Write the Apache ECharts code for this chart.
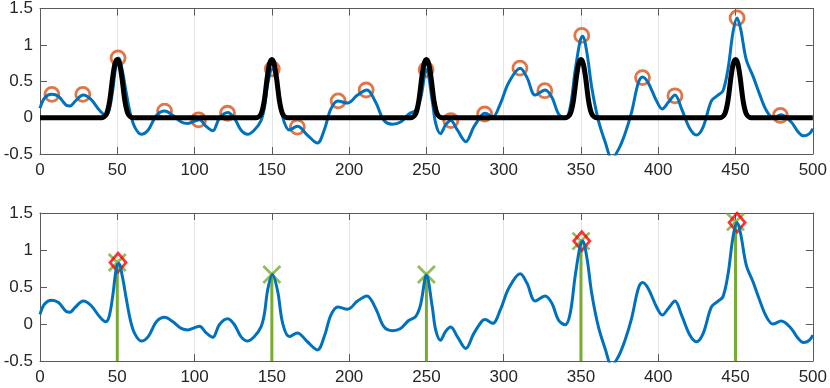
<!DOCTYPE html>
<html>
<head>
<meta charset="utf-8">
<script src="https://cdn.jsdelivr.net/npm/echarts@6/dist/echarts.min.js"></script>
<style>
    html, body { margin: 0; padding: 0; background: #fff; }
    #chart { width: 830px; height: 388px; }
</style>
</head>
<body>
<div id="chart"></div>
<script>
// 坐标轴范围和刻度
const xMin = 0, xMax = 500, xStep = 50;
const yMin = -0.5, yMax = 1.5, yStep = 0.5;

// 信号曲线 (蓝色)
const signalX = [0, 3, 7.5, 12, 17, 19.5, 22.5, 28, 33, 38.5, 42.5, 44.7, 47, 49.5, 51, 53.3, 56, 58.5, 61.3, 65.5,
    70, 75.3, 80.6, 86, 91.4, 95.7, 100, 103.2, 107.5, 111.8, 116, 121.5, 125.8, 130, 134.4, 138.7, 143, 145.2, 147.3, 150.3,
    153.8, 157, 161.3, 166.5, 173, 179.5, 183.9, 188.2, 192.7, 199, 205.4, 211.5, 217.2, 222.6, 228, 233.3, 238.7, 243, 246.2, 250,
    253.8, 256, 259.1, 262.4, 265.7, 270, 275.5, 280.6, 286, 288, 292.9, 297.8, 303.2, 310.7, 315.1, 320.4, 326.8, 331.2, 335.5, 339.8,
    343, 346.2, 349.5, 351, 353.8, 357, 361.3, 365.6, 370, 374.2, 378.5, 382.8, 387.1, 389.9, 393.5, 398.9, 402.6, 406.5, 410.8, 415.1,
    420.4, 424.7, 429, 434.4, 438.7, 441.9, 445.2, 448.4, 451, 453.3, 456.9, 461.3, 465.6, 469.9, 474.2, 479.5, 486, 490.3, 494, 497.8, 500];
const signalY = [0.13, 0.27, 0.32, 0.29, 0.17, 0.16, 0.22, 0.31, 0.25, 0.1, 0.03, 0.1, 0.37, 0.77, 0.82, 0.64, 0.32, 0.05, -0.13, -0.23,
    -0.17, 0.03, 0.09, 0.03, -0.06, -0.08, -0.05, -0.03, -0.12, -0.18, -0.01, 0.07, -0.01, -0.17, -0.23, -0.17, -0.04, 0.14, 0.46, 0.67,
    0.44, 0.01, -0.17, -0.12, -0.24, -0.35, -0.17, 0.12, 0.23, 0.2, 0.31, 0.38, 0.21, -0.04, -0.09, -0.06, 0.05, 0.1, 0.26, 0.66,
    0.23, -0.08, -0.22, -0.1, -0.04, -0.17, -0.33, -0.13, 0.04, 0.06, 0.01, 0.19, 0.48, 0.68, 0.55, 0.31, 0.38, 0.28, 0.05, -0.01,
    0.14, 0.64, 1.06, 1.12, 0.9, 0.41, -0.04, -0.33, -0.56, -0.44, -0.22, 0.08, 0.48, 0.56, 0.48, 0.23, 0.12, 0.21, 0.31, 0.12,
    -0.15, -0.24, -0.13, 0.23, 0.31, 0.37, 0.68, 1.18, 1.37, 1.22, 0.8, 0.57, 0.32, 0.1, 0, 0.04, -0.06, -0.19, -0.25, -0.22, -0.15];

// 脉冲模板 (黑色)
const pulseX = [0, 40, 43, 45, 47, 48.5, 50, 51.5, 53, 55, 57, 60,
    140, 143, 145, 147, 148.5, 150, 151.5, 153, 155, 157, 160,
    240, 243, 245, 247, 248.5, 250, 251.5, 253, 255, 257, 260,
    340, 343, 345, 347, 348.5, 350, 351.5, 353, 355, 357, 360,
    440, 443, 445, 447, 448.5, 450, 451.5, 453, 455, 457, 460, 500];
const pulseY = [0, 0, 0.05, 0.22, 0.55, 0.74, 0.8, 0.74, 0.55, 0.22, 0.05, 0,
    0, 0.05, 0.22, 0.55, 0.74, 0.8, 0.74, 0.55, 0.22, 0.05, 0,
    0, 0.05, 0.22, 0.55, 0.74, 0.8, 0.74, 0.55, 0.22, 0.05, 0,
    0, 0.05, 0.22, 0.55, 0.74, 0.8, 0.74, 0.55, 0.22, 0.05, 0,
    0, 0.05, 0.22, 0.55, 0.74, 0.8, 0.74, 0.55, 0.22, 0.05, 0, 0];

// 局部峰值 (橙色圆圈)
const peakX = [7.7, 27.7, 50.5, 80.6, 102.6, 121.3, 150.3, 166.5, 192.9, 211, 249.8, 265.8, 287.7, 310.5, 326.6, 350.5, 389.8, 410.8, 451, 479];
const peakY = [0.32, 0.32, 0.82, 0.09, -0.03, 0.06, 0.67, -0.13, 0.23, 0.38, 0.66, -0.04, 0.05, 0.68, 0.37, 1.13, 0.55, 0.3, 1.37, 0.03];

// 茎线 (绿色)
const stemX = [50, 150, 250, 350, 450];
const stemY = [0.83, 0.67, 0.67, 1.12, 1.38];

// 匹配结果 (红色菱形)
const matchX = [50.5, 350.5, 451];
const matchY = [0.83, 1.12, 1.37];

function toPoints(xs, ys) {
    return xs.map(function(x, i) { return [x, ys[i]]; });
}

const axisColor = '#5a5a5a';
const textStyle = { color: '#262626', fontSize: 17, fontFamily: 'Liberation Sans' };

// 每个子图四条轴 (MATLAB box on)
function makeXAxes(gridIndex) {
    const base = {
        gridIndex: gridIndex, type: 'value', min: xMin, max: xMax, interval: xStep,
        axisLine: { show: true, onZero: false, lineStyle: { color: axisColor, width: 1 } },
        axisTick: { show: true, inside: true, length: 7, lineStyle: { color: axisColor, width: 1 } }
    };
    return [
        Object.assign({}, base, {
            position: 'bottom',
            axisLabel: Object.assign({ margin: 8 }, textStyle),
            splitLine: { show: true, lineStyle: { color: '#e3e3e3', width: 1 } }
        }),
        Object.assign({}, base, {
            position: 'top',
            axisLabel: { show: false },
            splitLine: { show: false }
        })
    ];
}
function makeYAxes(gridIndex) {
    const base = {
        gridIndex: gridIndex, type: 'value', min: yMin, max: yMax, interval: yStep,
        axisLine: { show: true, onZero: false, lineStyle: { color: axisColor, width: 1 } },
        axisTick: { show: true, inside: true, length: 7, lineStyle: { color: axisColor, width: 1 } },
        splitLine: { show: false }
    };
    return [
        Object.assign({}, base, { position: 'left', axisLabel: Object.assign({ margin: 7 }, textStyle) }),
        Object.assign({}, base, { position: 'right', axisLabel: { show: false } })
    ];
}

const myChart = echarts.init(document.getElementById('chart'), null, { renderer: 'canvas' });

const option = {
    backgroundColor: '#fff',
    animation: false,
    grid: [
        { left: 40, top: 7, width: 775, height: 147 },
        { left: 40, top: 213, width: 775, height: 148 }
    ],
    xAxis: makeXAxes(0).concat(makeXAxes(1)),
    yAxis: makeYAxes(0).concat(makeYAxes(1)),
    series: [
        // 上图
        {
            type: 'line', xAxisIndex: 0, yAxisIndex: 0,
            data: toPoints(signalX, signalY),
            smooth: 0.35, showSymbol: false,
            lineStyle: { color: '#0072BD', width: 3 }
        },
        {
            type: 'line', xAxisIndex: 0, yAxisIndex: 0,
            data: toPoints(pulseX, pulseY),
            smooth: 0.3, showSymbol: false,
            lineStyle: { color: '#000', width: 5 }
        },
        {
            type: 'scatter', xAxisIndex: 0, yAxisIndex: 0,
            data: toPoints(peakX, peakY),
            symbol: 'circle', symbolSize: 14,
            itemStyle: { color: 'none', borderColor: '#D95319', borderWidth: 2.8 }
        },
        // 下图
        {
            type: 'line', xAxisIndex: 2, yAxisIndex: 2,
            data: toPoints(signalX, signalY),
            smooth: 0.35, showSymbol: false,
            lineStyle: { color: '#0072BD', width: 3 }
        },
        {
            type: 'custom', xAxisIndex: 2, yAxisIndex: 2,
            data: toPoints(stemX, stemY),
            renderItem: function(params, api) {
                const top = api.coord([api.value(0), api.value(1)]);
                const bottom = api.coord([api.value(0), yMin]);
                return {
                    type: 'line',
                    shape: { x1: top[0], y1: top[1], x2: bottom[0], y2: bottom[1] },
                    style: { stroke: '#77AC30', lineWidth: 3 }
                };
            }
        },
        {
            type: 'scatter', xAxisIndex: 2, yAxisIndex: 2,
            data: toPoints(stemX, stemY),
            symbol: 'path://M0,0L10,10M0,10L10,0', symbolSize: 17,
            itemStyle: { color: 'none', borderColor: '#77AC30', borderWidth: 2.8 }
        },
        {
            type: 'scatter', xAxisIndex: 2, yAxisIndex: 2,
            data: toPoints(matchX, matchY),
            symbol: 'diamond', symbolSize: [16, 19],
            itemStyle: { color: 'none', borderColor: '#FF0000', borderWidth: 2.8 }
        }
    ]
};
myChart.setOption(option);
</script>
</body>
</html>
